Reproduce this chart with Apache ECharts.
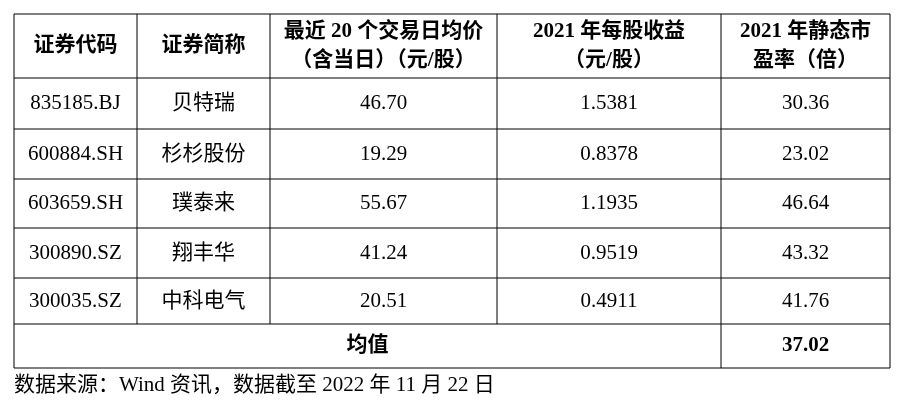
<!DOCTYPE html>
<html><head><meta charset="utf-8">
<script src="https://cdn.jsdelivr.net/npm/echarts@6/dist/echarts.min.js"></script>
<style>html,body{margin:0;padding:0;background:#fff}#c{width:904px;height:401px}</style>
</head><body><div id="c"></div>
<script>
(()=>{
  "use strict";
  const headers = [["证券代码"],["证券简称"],["最近 20 个交易日均价","（含当日）（元/股）"],["2021 年每股收益","（元/股）"],["2021 年静态市","盈率（倍）"]];
  const codes = ["835185.BJ","600884.SH","603659.SH","300890.SZ","300035.SZ"];
  const names = ["贝特瑞","杉杉股份","璞泰来","翔丰华","中科电气"];
  const prices = ["46.70","19.29","55.67","41.24","20.51"];
  const eps = ["1.5381","0.8378","1.1935","0.9519","0.4911"];
  const pe = ["30.36","23.02","46.64","43.32","41.76"];
  const meanLabel = "均值", meanValue = "37.02";
  const source = "数据来源：Wind 资讯，数据截至 2022 年 11 月 22 日";

  const colX = [14,137,270,497,721,890];
  const rowY = [14,78,129,179,228,278,324,368];
  const font = "'Liberation Serif','Noto Sans CJK SC',serif";
  const g = [];
  const text = (x,y,s,bold,size)=>g.push({type:"text",x,y,style:{text:s,fill:"#000",font:(bold?"bold ":"")+(size||20)+"px "+font,textAlign:"center",textVerticalAlign:"middle"}});
  const line = (x1,y1,x2,y2)=>g.push({type:"line",shape:{x1,y1,x2,y2},style:{stroke:"#000",lineWidth:1}});
  rowY.forEach(y=>line(colX[0],y,colX[5],y));
  colX.forEach((x,i)=>{
    const full = i===0||i===4||i===5;
    line(x,rowY[0],x,full?rowY[7]:rowY[6]);
  });
  const mid = i=>(colX[i]+colX[i+1])/2;
  headers.forEach((h,i)=>{
    const cy=(rowY[0]+rowY[1])/2;
    if(h.length===1) text(mid(i),cy,h[0],true,21);
    else { text(mid(i),cy-14,h[0],true,21); text(mid(i),cy+15,h[1],true,21); }
  });
  [codes,names,prices,eps,pe].forEach((col,i)=>col.forEach((v,r)=>text(mid(i),(rowY[r+1]+rowY[r+2])/2,v,false,21)));
  text((colX[0]+colX[4])/2,(rowY[6]+rowY[7])/2,meanLabel,true,21);
  text(mid(4),(rowY[6]+rowY[7])/2,meanValue,true,21);
  g.push({type:"text",x:14,y:385,style:{text:source,fill:"#000",font:"21px "+font,textAlign:"left",textVerticalAlign:"middle"}});
  const chart = echarts.init(document.getElementById("c"));
  chart.setOption({animation:false,graphic:g});
})();
</script></body></html>
